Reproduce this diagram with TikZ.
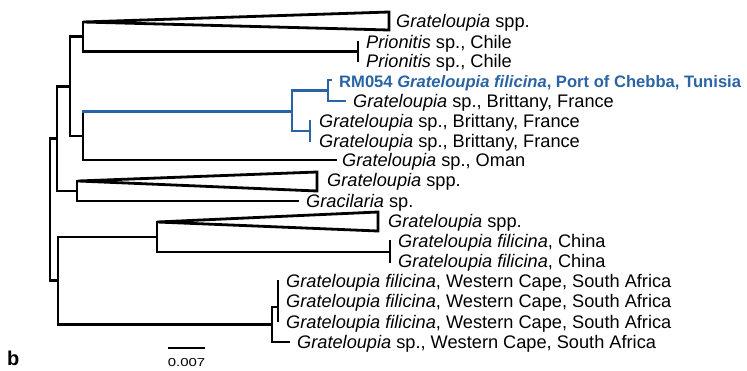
\documentclass[tikz,border=0pt]{standalone}
\usepackage{fontspec}
\setmainfont{Liberation Sans}
\definecolor{treeblue}{RGB}{42,100,165}
\begin{document}
\begin{tikzpicture}[x=1pt,y=-1pt,
  br/.style={line width=2.8pt, line join=miter, line cap=rect},
  bl/.style={br, draw=treeblue, line width=2.3pt},
  tri/.style={line width=2.8pt, line join=miter},
  lab/.style={anchor=base west, inner sep=0pt, font=\fontsize{18.2}{20}\selectfont},
  blab/.style={lab, text=treeblue, font=\fontsize{16.6}{20}\selectfont\bfseries}]
\useasboundingbox (0,0) rectangle (747,370);
% internal nodes
\coordinate (nC) at (50,209);
\coordinate (nB) at (57,138.5);
\coordinate (nA) at (70,86.5);
\coordinate (nT) at (83,36.5);
\coordinate (nG) at (83,136);
\coordinate (nK) at (77,191);
\coordinate (nD) at (58,280.5);
\coordinate (nE) at (157,237);
\coordinate (nF) at (272,324.5);
\coordinate (nS) at (278,307);
\coordinate (nBl) at (292,111.5);
\coordinate (nB1) at (328,90.5);
\coordinate (nB2) at (310,131);
\coordinate (nP) at (358,51.5);
\coordinate (nCh) at (390,252);
% leaves
\coordinate (t1) at (83,22);
\coordinate (t1a) at (389,12);
\coordinate (t1b) at (389,30);
\coordinate (p1) at (358,42);
\coordinate (p2) at (358,61);
\coordinate (r1s) at (331,80);
\coordinate (b1) at (345,101);
\coordinate (b2) at (310,121);
\coordinate (b3) at (310,141);
\coordinate (om) at (336,160);
\coordinate (t2) at (78,181);
\coordinate (t2a) at (317,172);
\coordinate (t2b) at (317,191);
\coordinate (gr) at (298,201);
\coordinate (t3) at (157,222);
\coordinate (t3a) at (378,212);
\coordinate (t3b) at (378,231);
\coordinate (ch1) at (390,241);
\coordinate (ch2) at (390,262);
\coordinate (sa1) at (278,281);
\coordinate (sa3) at (278,321);
\coordinate (sa4) at (289,342);
% branches
\draw[br] (t1) -| (nT) |- (nP);
\draw[br] (p1) -- (p2);
\draw[br] (nT) -| (nA) |- (nG);
\draw[br] (nA) -| (nB) |- (nK);
\draw[br] (nB) -| (nC) |- (nD);
\draw[br] (nG |- nBl) |- (om);
\draw[bl] (nG |- nBl) -- (nBl);
\draw[bl] (nB1) -| (nBl) |- (nB2);
\draw[bl] (r1s) -| (nB1) |- (b1);
\draw[bl] (b2) -- (b3);
\draw[br] (t2) -| (nK) |- (gr);
\draw[br] (t3) -| (nE) |- (nCh);
\draw[br] (ch1) -- (ch2);
\draw[br] (nE) -| (nD) |- (nF);
\draw[br] (nS) -| (nF) |- (sa4);
\draw[br] (sa1) -- (sa3);
% collapsed clades
\draw[tri] (t1) -- (t1a) -- (t1b) -- cycle;
\draw[tri] (t2) -- (t2a) -- (t2b) -- cycle;
\draw[tri] (t3) -- (t3a) -- (t3b) -- cycle;
% labels
\node[lab] (L1) at (396,27.5) {\textit{Grateloupia} spp.};
\node[lab] (L2) at (366,48.5) {\textit{Prionitis} sp., Chile};
\node[lab] (L3) at (366,67.5) {\textit{Prionitis} sp., Chile};
\node[blab] (L4) at (339,87) {RM054 \textit{Grateloupia filicina}, Port of Chebba, Tunisia};
\node[lab] (L5) at (353,107.5) {\textit{Grateloupia} sp., Brittany, France};
\node[lab] (L6) at (319,127.5) {\textit{Grateloupia} sp., Brittany, France};
\node[lab] (L7) at (319,147.5) {\textit{Grateloupia} sp., Brittany, France};
\node[lab] (L8) at (342,166.5) {\textit{Grateloupia} sp., Oman};
\node[lab] (L9) at (327,186.5) {\textit{Grateloupia} spp.};
\node[lab] (L10) at (306,207.5) {\textit{Gracilaria} sp.};
\node[lab] (L11) at (388,227.5) {\textit{Grateloupia} spp.};
\node[lab] (L12) at (398,247.5) {\textit{Grateloupia filicina}, China};
\node[lab] (L13) at (398,267.5) {\textit{Grateloupia filicina}, China};
\node[lab] (L14) at (286,287) {\textit{Grateloupia filicina}, Western Cape, South Africa};
\node[lab] (L15) at (286,307) {\textit{Grateloupia filicina}, Western Cape, South Africa};
\node[lab] (L16) at (286,328) {\textit{Grateloupia filicina}, Western Cape, South Africa};
\node[lab] (L17) at (297,348) {\textit{Grateloupia} sp., Western Cape, South Africa};
% scale bar
\coordinate (sb1) at (168,348);
\coordinate (sb2) at (205,348);
\draw[line width=1.6pt] (sb1) -- (sb2);
\node[inner sep=0pt, font=\fontsize{11.5}{12}\selectfont, xscale=1.3, anchor=base] (sbl) at (186.5,366) {0.007};
\node[inner sep=0pt, anchor=base west, font=\fontsize{20}{24}\selectfont\bfseries] (pl) at (7,365) {b};
\end{tikzpicture}
\end{document}
